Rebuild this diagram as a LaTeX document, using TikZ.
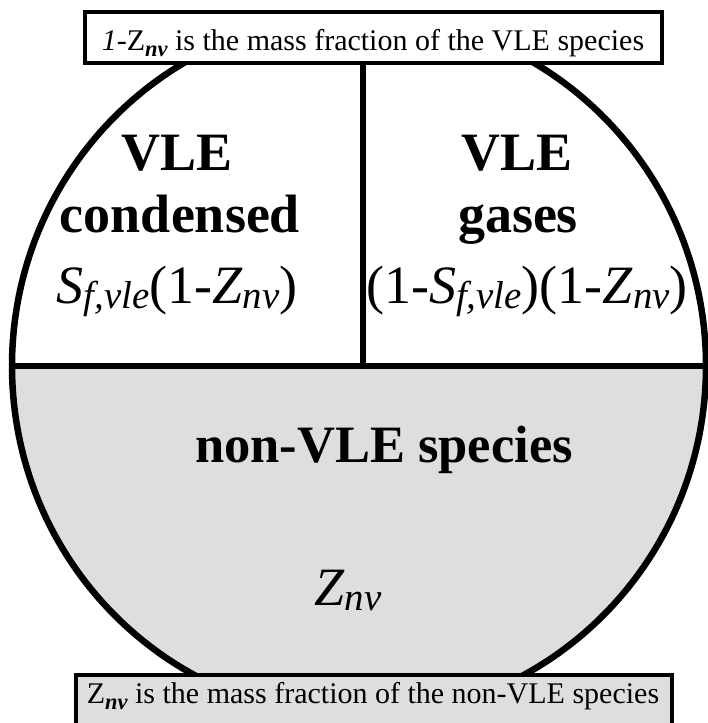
\documentclass[tikz,border=0pt]{standalone}
\usepackage{fontspec}
\setmainfont{Liberation Serif}
\definecolor{fillgray}{RGB}{222,222,222}
\newcommand\bsub[1]{\raisebox{-0.1em}{\scalebox{0.72}{\itshape #1}}}
\newcommand\ssub[1]{\raisebox{-0.22em}{\scalebox{0.75}{\bfseries\itshape #1}}}
\begin{document}
\begin{tikzpicture}[x=1pt,y=-1pt,
  thick line/.style={line width=6.5pt},
  bigtext/.style={font=\fontsize{54}{60}\selectfont, inner sep=0pt, anchor=base},
  smalltext/.style={font=\fontsize{30}{32}\selectfont, inner sep=0pt, anchor=base},
  labelbox/.style={draw, line width=3.5pt, inner sep=0pt}]
\useasboundingbox (0,0) rectangle (708,723);
\coordinate (c) at (359,366);
\coordinate (L) at (12,366);
\coordinate (R) at (706,366);
\coordinate (T) at (363,16);
\coordinate (M) at (363,366);
\begin{scope}
  \clip (0,366) rectangle (708,800);
  \fill[fillgray] (c) ellipse [x radius=347, y radius=351];
\end{scope}
\draw[thick line] (c) ellipse [x radius=347, y radius=351];
\draw[thick line] (L) -- (R);
\draw[thick line] (T) -- (M);
% left section
\node[bigtext] (vle1) at (177,170) {\bfseries VLE};
\node[bigtext] (cond) at (180,232) {\bfseries condensed};
\node[bigtext] (f1) at (177,303) {\textit{S}\bsub{f,vle}(1-\textit{Z}\bsub{nv})};
% right section
\node[bigtext] (vle2) at (517,170) {\bfseries VLE};
\node[bigtext] (gas) at (518,232) {\bfseries gases};
\node[bigtext] (f2) at (527,303) {(1-\textit{S}\bsub{f,vle})(1-\textit{Z}\bsub{nv})};
% lower section
\node[bigtext, font=\fontsize{52.5}{60}\selectfont] (nonvle) at (384,462) {\bfseries non-VLE species};
\node[bigtext] (znv) at (348,605) {\textit{Z}\bsub{nv}};
% label boxes
\node[labelbox, fill=white, minimum width=577pt, minimum height=51pt] (tbox) at (373.5,37.5) {};
\node[smalltext] (ttext) at (373,50) {\textit{1}-Z\ssub{nv} is the mass fraction of the VLE species};
\node[labelbox, fill=fillgray, minimum width=596pt, minimum height=70pt, anchor=north] (bbox) at (374,673) {};
\node[smalltext] (btext) at (373,703) {Z\ssub{nv} is the mass fraction of the non-VLE species};
\end{tikzpicture}
\end{document}
